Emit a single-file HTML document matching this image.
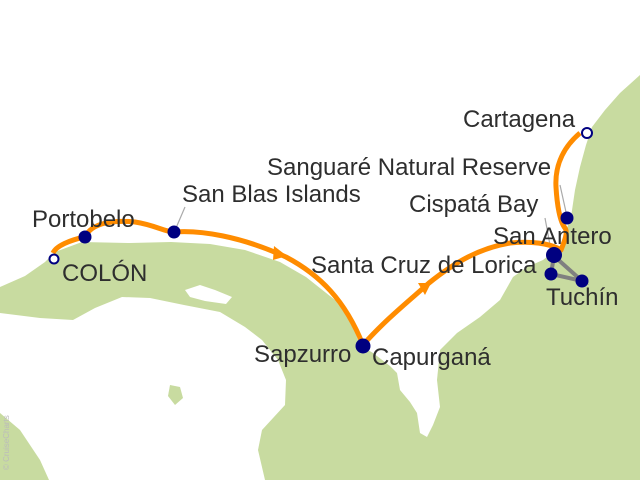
<!DOCTYPE html>
<html><head><meta charset="utf-8"><style>
body{margin:0;width:640px;height:480px;overflow:hidden;background:#fff}
svg text{font-family:"Liberation Sans",sans-serif;font-size:24px;fill:#2e2e2e}
</style></head><body>
<svg width="640" height="480" xmlns="http://www.w3.org/2000/svg">
<rect width="640" height="480" fill="#fff"/>
<!-- land -->
<path fill="#c8dba0" d="M0,287 L25,276 L45,262 L55,252 L82,242 L130,243 L171,242 L210,244 L245,250 L280,262 L306,277 L335,300 L350,320 L360,345 L373,353 L390,366 L397,373 L400,390 L410,402 L417,413 L420,433 L427,437 L433,425 L440,407 L437,380 L440,350 L457,333 L480,317 L500,300 L513,277 L527,267 L543,260 L560,247 L571,217 L575,190 L580,167 L586,145 L592,127 L605,110 L620,93 L640,75 L640,480 L265,480 L258,450 L262,430 L285,405 L286,380 L278,360 L262,340 L245,327 L220,312 L184,305 L150,298 L122,297 L95,308 L73,320 L40,318 L0,313 Z"/>
<path fill="#c8dba0" d="M0,413 L20,430 L40,460 L49,480 L0,480 Z"/>
<path fill="#c8dba0" d="M170,385 L180,387 L183,398 L175,405 L168,396 Z"/>
<path fill="#fff" d="M185,290 L200,285 L215,290 L232,297 L226,304 L205,301 L190,297 Z"/>
<!-- gray connectors -->
<g stroke="#aaa" stroke-width="1.2">
<line x1="185" y1="207" x2="176" y2="228"/>
<line x1="560" y1="185" x2="566" y2="212"/>
<line x1="545" y1="218" x2="550" y2="245"/>
</g>
<path d="M554,256 L551,274 L582,281 Z" stroke="#808080" stroke-width="4" fill="none"/>
<!-- route -->
<path fill="none" stroke="#ff8c00" stroke-width="5" stroke-linejoin="round" d="M53,253 C56,246 70,240 85,237 C92,222 115,220 135,222 C155,225 165,232 174,232 C200,230 240,236 286,257 C320,275 345,300 363,345 C385,320 410,300 429,283 C455,262 480,248 510,243 C530,241 550,243 561,250 C565,240 568,232 565,228 C560,222 557,205 556,187 C555,170 560,150 580,133"/>
<path fill="#ff8c00" d="M274,246 L287,256 L273,260 Z"/>
<path fill="#ff8c00" d="M418,283 L431,283 L425,295 Z"/>
<!-- dots -->
<g fill="#000080">
<circle cx="85" cy="237" r="6.5"/>
<circle cx="174" cy="232" r="6.5"/>
<circle cx="363" cy="346" r="7.5"/>
<circle cx="567" cy="218" r="6.5"/>
<circle cx="554" cy="255" r="8"/>
<circle cx="551" cy="274" r="6.5"/>
<circle cx="582" cy="281" r="6.5"/>
</g>
<circle cx="54" cy="259" r="4.5" fill="#fff" stroke="#000080" stroke-width="2"/>
<circle cx="587" cy="133" r="5" fill="#fff" stroke="#000080" stroke-width="2"/>
<!-- labels -->
<text x="463" y="127">Cartagena</text>
<text x="267" y="175">Sanguaré Natural Reserve</text>
<text x="409" y="212">Cispatá Bay</text>
<text x="493" y="244">San Antero</text>
<text x="311" y="273">Santa Cruz de Lorica</text>
<text x="546" y="305">Tuchín</text>
<text x="372" y="365">Capurganá</text>
<text x="254" y="362">Sapzurro</text>
<text x="182" y="202">San Blas Islands</text>
<text x="32" y="227">Portobelo</text>
<text x="62" y="281">COLÓN</text>
<text transform="translate(9,470) rotate(-90)" style="font-size:8px;fill:#bbb">© CruiseCharts</text>
</svg>
</body></html>
